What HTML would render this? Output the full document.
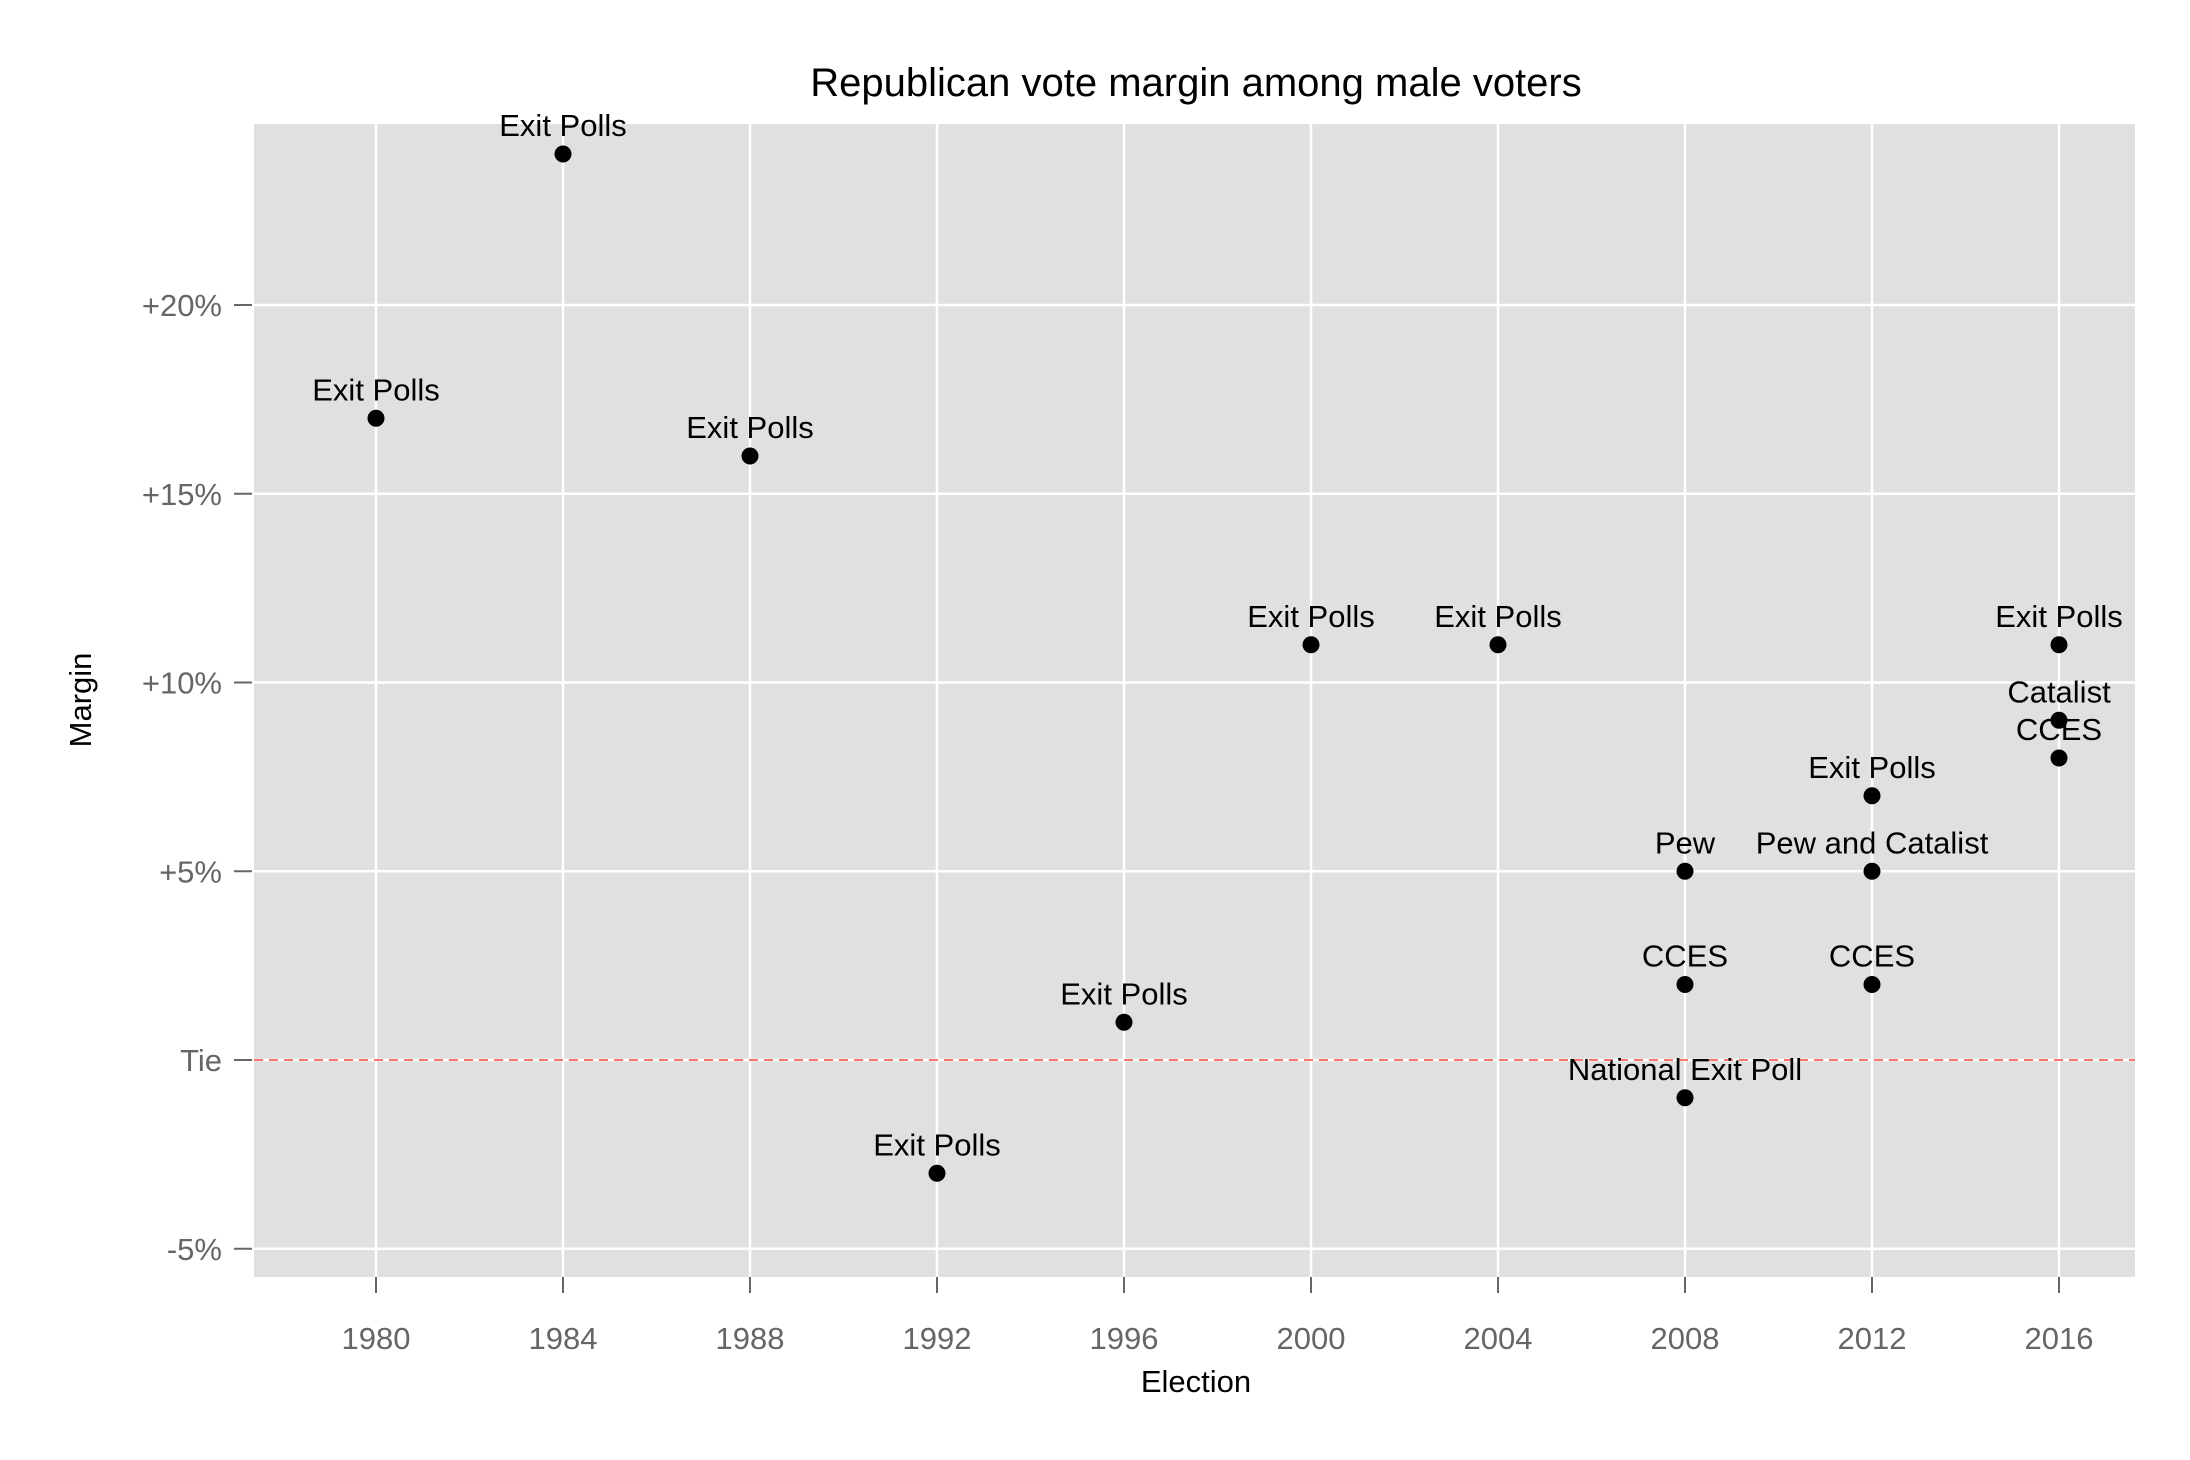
<!DOCTYPE html>
<html><head><meta charset="utf-8"><style>
body{margin:0;background:#fff;}
svg{display:block;font-family:"Liberation Sans",sans-serif;}
</style></head><body>
<svg id="chart" width="2190" height="1460">
<rect x="254" y="124" width="1881" height="1153" fill="#e0e0e0"/>
<g id="grid"></g>
<g id="axes"></g>
<g id="marks"></g>
<text x="1196" y="96" text-anchor="middle" font-size="40" fill="#000">Republican vote margin among male voters</text>
<text x="1196" y="1392" text-anchor="middle" font-size="31" fill="#000">Election</text>
<text transform="translate(91,700) rotate(-90)" text-anchor="middle" font-size="31" fill="#000">Margin</text>
</svg>
<script>
const years=[1980,1984,1988,1992,1996,2000,2004,2008,2008,2008,2012,2012,2012,2016,2016,2016];
const margins=[17,24,16,-3,1,11,11,5,2,-1,7,5,2,11,9,8];
const sources=["Exit Polls","Exit Polls","Exit Polls","Exit Polls","Exit Polls","Exit Polls","Exit Polls","Pew","CCES","National Exit Poll","Exit Polls","Pew and Catalist","CCES","Exit Polls","Catalist","CCES"];
const xTicks=[1980,1984,1988,1992,1996,2000,2004,2008,2012,2016];
const yTicks=[-5,0,5,10,15,20];
const yTickLabels=["-5%","Tie","+5%","+10%","+15%","+20%"];
const NS="http://www.w3.org/2000/svg";
function xs(v){return 376+(v-1980)*(2059-376)/36;}
function ys(v){return 1060-v*(1060-305)/20;}
function mk(t,a,p){const e=document.createElementNS(NS,t);for(const k in a)e.setAttribute(k,a[k]);if(p)document.getElementById(p).appendChild(e);return e;}
xTicks.forEach(t=>{
  const g=mk('line',{x1:xs(t),x2:xs(t),y1:124,y2:1277,stroke:'#fff','stroke-width':2.5},'grid');
  
  
  const tk=mk('line',{x1:xs(t),x2:xs(t),y1:1277,y2:1293,stroke:'#666','stroke-width':2},'axes');
  
  
  const l=mk('text',{x:xs(t),y:1349,'text-anchor':'middle','font-size':31,fill:'#666'},'axes');
  l.textContent=t;
  
  
});
yTicks.forEach((t,i)=>{
  const g=mk('line',{x1:254,x2:2135,y1:ys(t),y2:ys(t),stroke:'#fff','stroke-width':2.5},'grid');
  
  
  const tk=mk('line',{x1:234,x2:252,y1:ys(t),y2:ys(t),stroke:'#666','stroke-width':2},'axes');
  
  
  const l=mk('text',{x:222,y:ys(t)+11,'text-anchor':'end','font-size':31,fill:'#666'},'axes');
  l.textContent=yTickLabels[i];
  
  
});
const tie=mk('line',{x1:254,x2:2135,y1:ys(0),y2:ys(0),stroke:'#f8766d','stroke-width':2,'stroke-dasharray':'9,6'},'marks');


years.forEach((y,i)=>{
  const c=mk('circle',{cx:xs(y),cy:ys(margins[i]),r:8.5,fill:'#000'},'marks');
  
  
  const l=mk('text',{x:xs(y),y:ys(margins[i])-18,'text-anchor':'middle','font-size':31,fill:'#000'},'marks');
  l.textContent=sources[i];
  
  
});
</script>
</body></html>
